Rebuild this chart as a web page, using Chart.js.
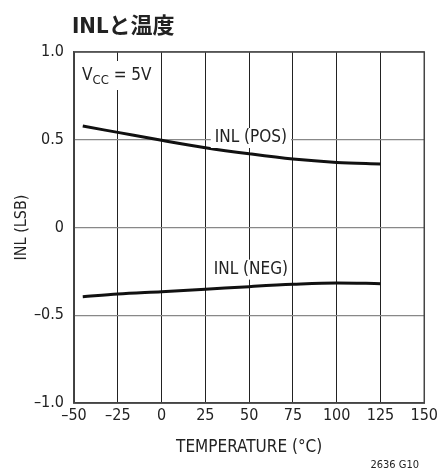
<!DOCTYPE html>
<html>
<head>
<meta charset="utf-8">
<script src="https://cdn.jsdelivr.net/npm/chart.js@4/dist/chart.umd.min.js"></script>
<style>
  html, body { margin: 0; padding: 0; background: #fff; }
  #wrap { width: 441px; height: 470px; }
</style>
</head>
<body>
<div id="wrap"><canvas id="inlChart" width="441" height="470"></canvas></div>
<script>
const temps = [-45, -25, 0, 25, 50, 75, 100, 125];
const inlPos = [0.578, 0.542, 0.497, 0.455, 0.42, 0.39, 0.371, 0.362];
const inlNeg = [-0.394, -0.379, -0.366, -0.352, -0.337, -0.324, -0.316, -0.32];
const xTicks = [-50, -25, 0, 25, 50, 75, 100, 125, 150];
const yTicks = [-1, -0.5, 0, 0.5, 1];

const FONT = "'DejaVu Sans Condensed', 'Liberation Sans Narrow', 'Liberation Sans', sans-serif";
Chart.defaults.font.family = FONT;
Chart.defaults.color = '#222';

function fmtY(v) {
  let s = (v === 0) ? '0' : Math.abs(v).toFixed(1);
  return v < 0 ? '\u2013' + s : s;
}
function fmtX(v) {
  return v < 0 ? '\u2013' + Math.abs(v) : String(v);
}

function pts(ys) {
  return temps.map((t, i) => ({ x: t, y: ys[i] }));
}

// labels, frame, title and notes drawn on top of the plot
const annotations = {
  id: 'annotations',
  afterDraw(chart) {
    const { ctx, chartArea: a, scales } = chart;
    const x = scales.x, y = scales.y;
    ctx.save();
    // frame
    ctx.strokeStyle = '#444';
    ctx.lineWidth = 1.5;
    ctx.strokeRect(a.left, a.top, a.right - a.left, a.bottom - a.top);

    function label(text, cx, cy) {
      ctx.font = '17px ' + FONT;
      const w = ctx.measureText(text).width;
      ctx.fillStyle = '#fff';
      ctx.fillRect(cx - w / 2 - 4, cy - 10, w + 8, 20);
      ctx.fillStyle = '#222';
      ctx.textAlign = 'center';
      ctx.textBaseline = 'middle';
      ctx.fillText(text, cx, cy);
    }
    label('INL (POS)', x.getPixelForValue(51), y.getPixelForValue(0.51));
    label('INL (NEG)', x.getPixelForValue(51), y.getPixelForValue(-0.24));

    // VCC = 5V
    ctx.fillStyle = '#fff';
    ctx.fillRect(a.left + 6, a.top + 9, 68, 29);
    ctx.fillStyle = '#222';
    ctx.textAlign = 'left';
    ctx.textBaseline = 'alphabetic';
    ctx.font = '17px ' + FONT;
    let px = a.left + 8;
    ctx.fillText('V', px, a.top + 28);
    px += ctx.measureText('V').width;
    ctx.font = '13px ' + FONT;
    ctx.fillText('CC', px, a.top + 32);
    px += ctx.measureText('CC').width;
    ctx.font = '17px ' + FONT;
    ctx.fillText(' = 5V', px, a.top + 28);

    // title
    ctx.font = "bold 22px 'DejaVu Sans Condensed', 'Noto Sans CJK JP', sans-serif";
    ctx.fillText('INL\u3068\u6e29\u5ea6', 72, 33);

    // figure code
    ctx.font = '11px ' + FONT;
    ctx.textAlign = 'right';
    ctx.fillText('2636 G10', 419, 468);
    ctx.restore();
  }
};

new Chart(document.getElementById('inlChart'), {
  type: 'line',
  data: {
    datasets: [
      {
        label: 'INL (POS)',
        data: pts(inlPos),
        borderColor: '#111',
        borderWidth: 3,
        pointRadius: 0,
        cubicInterpolationMode: 'monotone',
        fill: false,
      },
      {
        label: 'INL (NEG)',
        data: pts(inlNeg),
        borderColor: '#111',
        borderWidth: 3,
        pointRadius: 0,
        cubicInterpolationMode: 'monotone',
        fill: false,
      },
    ],
  },
  options: {
    responsive: false,
    animation: false,
    layout: {
      padding: { left: 0, right: 15, top: 52, bottom: 0 },
    },
    plugins: {
      legend: { display: false },
      tooltip: { enabled: false },
    },
    scales: {
      x: {
        type: 'linear',
        min: -50,
        max: 150,
        afterBuildTicks(scale) {
          scale.ticks = xTicks.map(v => ({ value: v }));
        },
        afterFit(scale) {
          scale.height = 67;
        },
        grid: { color: '#222', lineWidth: 1, drawTicks: false },
        border: { color: '#444', width: 1.5 },
        ticks: {
          padding: 3,
          maxRotation: 0,
          autoSkip: false,
          font: { size: 16 },
          color: '#222',
          callback: v => fmtX(v),
        },
        title: {
          display: true,
          text: 'TEMPERATURE (\u00b0C)',
          font: { size: 17 },
          color: '#222',
          padding: { top: 6, bottom: 12 },
        },
      },
      y: {
        min: -1,
        max: 1,
        afterBuildTicks(scale) {
          scale.ticks = yTicks.map(v => ({ value: v }));
        },
        afterFit(scale) {
          scale.width = 74;
        },
        grid: { color: '#888', lineWidth: 1.2, drawTicks: false },
        border: { color: '#444', width: 1.5 },
        ticks: {
          padding: 10,
          font: { size: 16 },
          color: '#222',
          callback: v => fmtY(v),
        },
        title: {
          display: true,
          text: 'INL (LSB)',
          font: { size: 16 },
          color: '#222',
          padding: { top: 12, bottom: 0 },
        },
      },
    },
  },
  plugins: [annotations],
});
</script>
</body>
</html>
